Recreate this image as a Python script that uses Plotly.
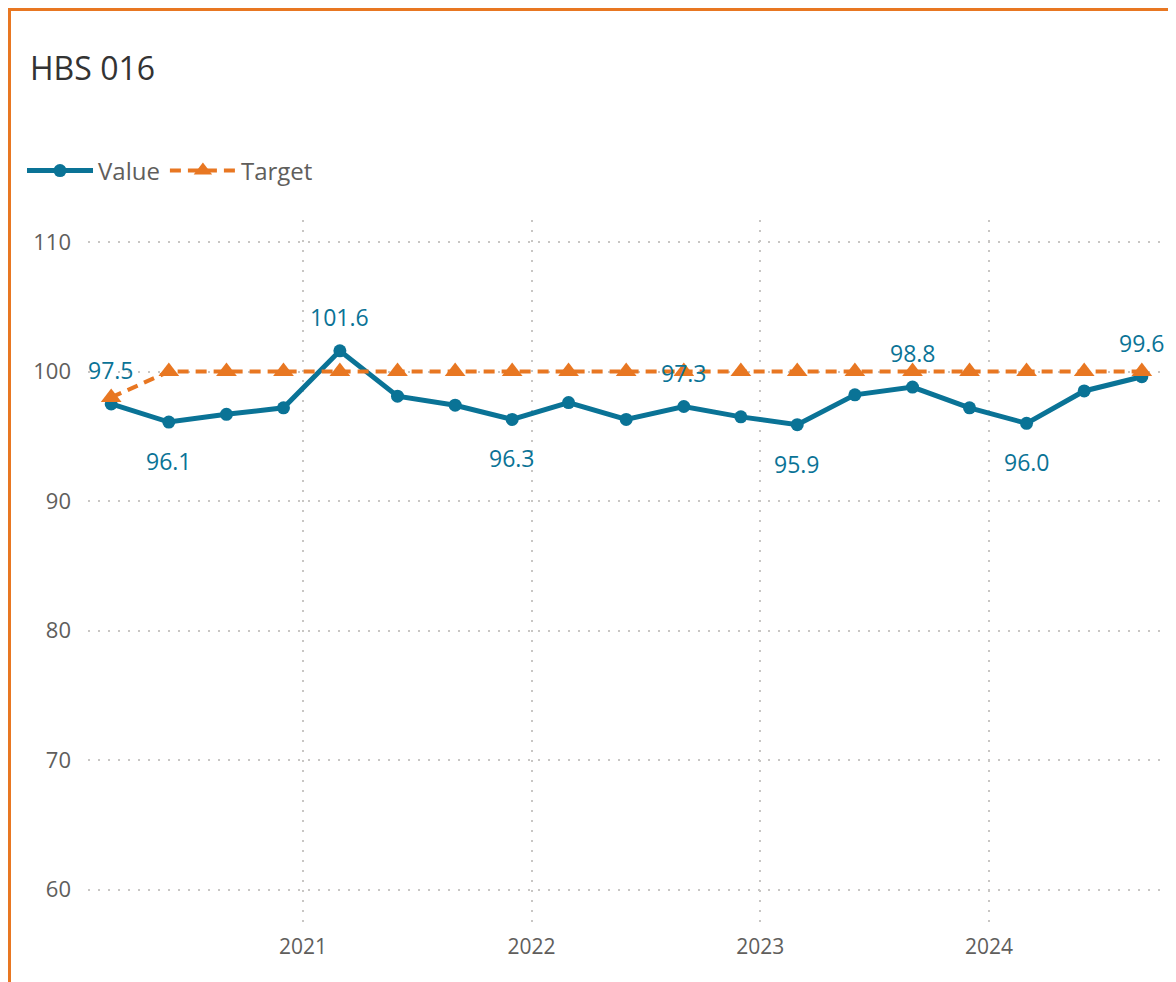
import plotly.graph_objects as go

# ---- data ----
dates = ["2020-03-01", "2020-06-01", "2020-09-01", "2020-12-01",
         "2021-03-01", "2021-06-01", "2021-09-01", "2021-12-01",
         "2022-03-01", "2022-06-01", "2022-09-01", "2022-12-01",
         "2023-03-01", "2023-06-01", "2023-09-01", "2023-12-01",
         "2024-03-01", "2024-06-01", "2024-09-01"]
values = [97.5, 96.1, 96.7, 97.2, 101.6, 98.1, 97.4, 96.3, 97.6, 96.3,
          97.3, 96.5, 95.9, 98.2, 98.8, 97.2, 96.0, 98.5, 99.6]
targets = [98, 100, 100, 100, 100, 100, 100, 100, 100, 100,
           100, 100, 100, 100, 100, 100, 100, 100, 100]
label_side = ["top", "bottom", None, None, "top", None, None, "bottom", None, None,
              "top", None, "bottom", None, "top", None, "bottom", None, "top"]
year_ticks = ["2021-01-01", "2022-01-01", "2023-01-01", "2024-01-01"]
year_labels = ["2021", "2022", "2023", "2024"]
y_ticks = [60, 70, 80, 90, 100, 110]

BLUE = "#0A7396"
ORANGE = "#E87722"
GREY_TXT = "#605E5C"
GRID = "#C8C6C4"
FONT = "Open Sans"

W, H = 1176, 982
L, R, T, B = 80, 24, 212, 68
pw, ph = W - L - R, H - T - B

def px_x(p):
    return (p - L) / pw

def px_y(p):
    return (H - B - p) / ph

fig = go.Figure()
fig.add_trace(go.Scatter(
    x=dates, y=values, name="Value", mode="lines+markers",
    line=dict(color=BLUE, width=5),
    marker=dict(color=BLUE, size=13, symbol="circle"),
))
fig.add_trace(go.Scatter(
    x=dates, y=targets, name="Target", mode="lines+markers",
    line=dict(color=ORANGE, width=4, dash="11px,7px"),
    marker=dict(color=ORANGE, size=18, symbol="triangle-up"),
))

for d, v, s in zip(dates, values, label_side):
    if s is None:
        continue
    fig.add_annotation(
        x=d, y=v, text=f"{v:.1f}", showarrow=False,
        yshift=34 if s == "top" else -39,
        font=dict(family=FONT, size=23, color=BLUE),
    )

# partial orange frame (extends beyond visible page)
fig.add_shape(type="rect", xref="paper", yref="paper",
              x0=px_x(1.5), x1=px_x(W + 40), y0=px_y(H + 40), y1=px_y(1.5),
              line=dict(color=ORANGE, width=3), fillcolor="rgba(0,0,0,0)", layer="below")

fig.update_layout(
    width=W, height=H,
    margin=dict(l=L, r=R, t=T, b=B),
    paper_bgcolor="white", plot_bgcolor="white",
    font=dict(family=FONT, color=GREY_TXT),
    title=dict(text="HBS 016", xref="container", yref="container",
               x=22 / W, xanchor="left", y=1 - 61 / H, yanchor="middle",
               font=dict(family=FONT, size=32, color="#333333")),
    legend=dict(orientation="h", x=px_x(14), xanchor="left",
                y=px_y(163), yanchor="middle",
                font=dict(family=FONT, size=24, color=GREY_TXT),
                bgcolor="rgba(0,0,0,0)", itemwidth=66),
    showlegend=True,
    xaxis=dict(range=["2020-01-24", "2024-09-30"], tickvals=year_ticks, ticktext=year_labels,
               showgrid=True, gridcolor=GRID, griddash="2px,8px", gridwidth=1.5,
               zeroline=False, showline=False, ticks="",
               tickfont=dict(family=FONT, size=21, color=GREY_TXT),
               ticklabelstandoff=10),
    yaxis=dict(range=[57.5, 111.7], tickvals=y_ticks,
               showgrid=True, gridcolor=GRID, griddash="2px,8px", gridwidth=1.5,
               zeroline=False, showline=False, ticks="",
               tickfont=dict(family=FONT, size=22, color=GREY_TXT),
               ticklabelstandoff=16),
)

fig.write_html("out.html")
